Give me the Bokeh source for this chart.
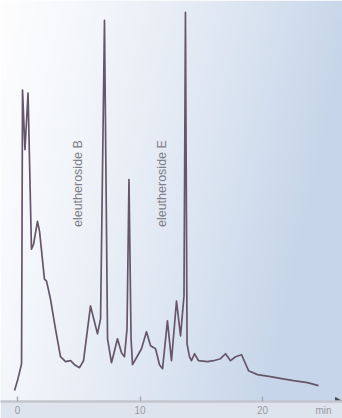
import numpy as np
from bokeh.plotting import figure
from bokeh.models import Range1d, FixedTicker
from bokeh.core.properties import value
from bokeh.embed import file_html
from bokeh.resources import INLINE

# retention time (min) and detector signal (arbitrary units)
time_min = [-0.24, 0.00, 0.16, 0.33, 0.41, 0.61, 0.86, 1.14, 1.31, 1.63, 1.80, 2.20, 2.37,
            2.69, 3.10, 3.51, 3.92, 4.33, 4.65, 5.06, 5.39, 5.96, 6.53, 6.78, 7.10, 7.35,
            7.67, 7.92, 8.16, 8.49, 8.73, 8.94, 9.10, 9.27, 9.39, 9.80, 10.12, 10.53, 10.86,
            11.27, 11.59, 11.84, 12.24, 12.57, 12.98, 13.31, 13.59, 13.71, 13.84, 14.04,
            14.20, 14.45, 14.78, 15.51, 16.00, 16.57, 16.98, 17.39, 17.80, 18.29, 18.86,
            19.59, 20.65, 21.55, 22.53, 23.67, 24.57]
signal = [11, 21, 29, 38, 313, 253, 310, 153, 158, 181, 171, 123, 121,
          103, 73, 45, 40, 41, 37, 34, 41, 96, 68, 83, 383, 63,
          39, 51, 63, 49, 45, 73, 223, 63, 37, 46, 53, 70, 56,
          53, 37, 33, 81, 41, 101, 66, 106, 391, 58, 45,
          41, 48, 41, 40, 41, 43, 48, 41, 45, 47, 31,
          27, 25, 23, 21, 19, 16]

peak_names = ["eleutheroside B", "eleutheroside E"]
peak_label_x = [4.9, 11.76]
peak_label_y = [219, 219]

tick_values = [0, 10, 20]
unit_pos = 24.98
unit_label = "min"
arrow_pos = [26.15]
arrow_y = [0]

x0, x1 = -1.388, 26.53
y0, y1 = 0, 403

p = figure(width=342, height=418, output_backend="svg", toolbar_location=None,
           x_range=Range1d(x0, x1), y_range=Range1d(y0, y1),
           min_border_left=0, min_border_right=0, min_border_top=0, min_border_bottom=0,
           y_axis_type=None)
p.outline_line_color = None
p.grid.visible = False
p.background_fill_color = "#ffffff"
p.border_fill_color = "#dde4ee"

# background gradient (white at left to pale blue at right)
ny, nx = 64, 96
xs = np.linspace(0, 1, nx)[None, :]
ys = np.linspace(0, 1, ny)[:, None]  # 0 = bottom, 1 = top
a = np.clip(0.95 * xs + 0.25 * (1 - ys), 0, 1) ** 1.3
white = np.array([253, 253, 254])
blue = np.array([198, 213, 233])
rgb = white[None, None, :] * (1 - a[..., None]) + blue[None, None, :] * a[..., None]
img = np.zeros((ny, nx), dtype=np.uint32)
view = img.view(dtype=np.uint8).reshape((ny, nx, 4))
view[..., 0] = rgb[..., 0].astype(np.uint8)
view[..., 1] = rgb[..., 1].astype(np.uint8)
view[..., 2] = rgb[..., 2].astype(np.uint8)
view[..., 3] = 255
p.image_rgba(image=[img], x=x0, y=y0, dw=x1 - x0, dh=y1 - y0)

p.line(time_min, signal, line_color="#66566a", line_width=1.7, line_join="round")

p.text(x=peak_label_x, y=peak_label_y, text=peak_names, angle=np.pi / 2,
       text_align="center", text_baseline="middle", text_color="#808086",
       text_font=value("Liberation Sans"), text_font_size="12.5px")

# arrow head at the end of the time axis
p.scatter(arrow_pos, arrow_y, marker="triangle", angle=-np.pi / 2, size=8,
          fill_color="#4a4a55", line_color="#4a4a55")

ax = p.xaxis[0]
ax.ticker = FixedTicker(ticks=tick_values + [unit_pos], minor_ticks=tick_values)
ax.major_label_overrides = {unit_pos: unit_label}
ax.axis_line_color = "#c2c6ce"
ax.axis_line_width = 2.5
ax.major_tick_in = 0
ax.major_tick_out = 0
ax.minor_tick_in = 5
ax.minor_tick_out = 0
ax.minor_tick_line_color = "#a8acb4"
ax.minor_tick_line_width = 1.5
ax.major_label_standoff = 3
ax.major_label_text_font = "Liberation Sans"
ax.major_label_text_font_size = "10px"
ax.major_label_text_color = "#9a9aa0"

open("out.html", "w").write(file_html(p, INLINE))
